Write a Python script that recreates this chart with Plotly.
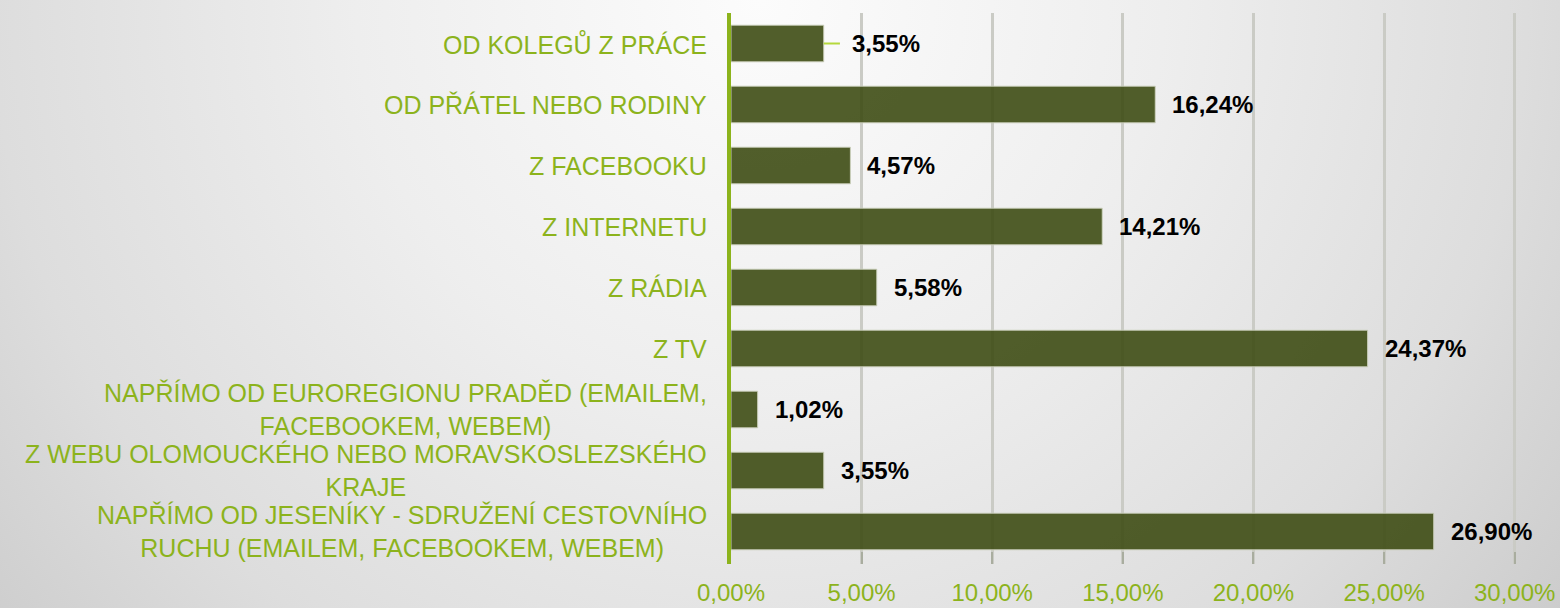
import base64
import plotly.graph_objects as go

categories = [
    "OD KOLEGŮ Z PRÁCE",
    "OD PŘÁTEL NEBO RODINY",
    "Z FACEBOOKU",
    "Z INTERNETU",
    "Z RÁDIA",
    "Z TV",
    "NAPŘÍMO OD EUROREGIONU PRADĚD (EMAILEM,<br>FACEBOOKEM, WEBEM)",
    "Z WEBU OLOMOUCKÉHO NEBO MORAVSKOSLEZSKÉHO<br>KRAJE",
    "NAPŘÍMO OD JESENÍKY - SDRUŽENÍ CESTOVNÍHO<br>RUCHU (EMAILEM, FACEBOOKEM, WEBEM)",
]
values = [3.55, 16.24, 4.57, 14.21, 5.58, 24.37, 1.02, 3.55, 26.90]
tick_values = [0, 5, 10, 15, 20, 25, 30]
tick_labels = ["0,00%", "5,00%", "10,00%", "15,00%", "20,00%", "25,00%", "30,00%"]

GREEN = "#8cb31c"
FONT = "Arial, Liberation Sans, sans-serif"

W, H = 1560, 608
ML, MR, MT, MB = 731, 44, 13, 44
PW, PH = W - ML - MR, H - MT - MB

svg = f'''<svg xmlns="http://www.w3.org/2000/svg" width="{W}" height="{H}" viewBox="0 0 {W} {H}" preserveAspectRatio="none">
<defs><radialGradient id="g" gradientUnits="userSpaceOnUse" cx="760" cy="0" r="1010">
<stop offset="0" stop-color="#fcfcfc"/>
<stop offset="0.4" stop-color="#eeeeee"/>
<stop offset="0.76" stop-color="#dddddd"/>
<stop offset="1" stop-color="#cccccc"/>
</radialGradient></defs>
<rect width="{W}" height="{H}" fill="url(#g)"/></svg>'''
bg_src = "data:image/svg+xml;base64," + base64.b64encode(svg.encode()).decode()

fig = go.Figure()
fig.add_trace(go.Bar(
    x=values, y=categories, orientation="h",
    marker=dict(color="rgba(62,76,20,0.9)", line=dict(color="rgba(205,210,190,0.9)", width=1)),
    width=0.6, hoverinfo="skip",
))

annotations = []
for i, (cat, v) in enumerate(zip(categories, values)):
    annotations.append(dict(
        x=0, xref="paper", y=cat, yref="y", xanchor="right", yanchor="middle",
        xshift=-22, text=cat, showarrow=False, align="center",
        font=dict(family=FONT, size=25, color=GREEN),
    ))
    annotations.append(dict(
        x=v, xref="x", y=cat, yref="y", xanchor="left", yanchor="middle",
        xshift=26 if i == 0 else 15,
        text=f"{v:.2f}%".replace(".", ","), showarrow=False,
        font=dict(family=FONT, size=24, color="#000000", weight="bold"),
    ))

shapes = [dict(
    type="line", xref="x", yref="y",
    x0=values[0], x1=values[0] + 0.62, y0=categories[0], y1=categories[0],
    line=dict(color="#b5d83c", width=2), layer="above",
)]

fig.update_layout(
    width=W, height=H,
    margin=dict(l=ML, r=MR, t=MT, b=MB, autoexpand=False),
    paper_bgcolor="#dedede", plot_bgcolor="rgba(0,0,0,0)",
    showlegend=False,
    images=[dict(source=bg_src, xref="paper", yref="paper", x=-ML / PW, y=1 + MT / PH,
                 sizex=W / PW, sizey=H / PH, xanchor="left", yanchor="top",
                 sizing="stretch", layer="below")],
    annotations=annotations,
    shapes=shapes,
    xaxis=dict(
        range=[0, 30.05], tickvals=tick_values, ticktext=tick_labels,
        showgrid=True, gridcolor="#cacbc5", gridwidth=3,
        ticks="inside", ticklen=12, tickwidth=2, tickcolor="#a9ad9f",
        tickfont=dict(family=FONT, size=24, color=GREEN),
        ticklabelstandoff=12, automargin=False,
        zeroline=False, showline=False,
    ),
    yaxis=dict(
        autorange="reversed", showticklabels=False, showgrid=False,
        showline=True, linecolor=GREEN, linewidth=4, ticks="",
        zeroline=False, automargin=False,
    ),
)

fig.write_html("out.html", config={"displayModeBar": False, "staticPlot": True},
               post_script="document.body.style.margin='0';document.body.style.overflow='hidden';")
